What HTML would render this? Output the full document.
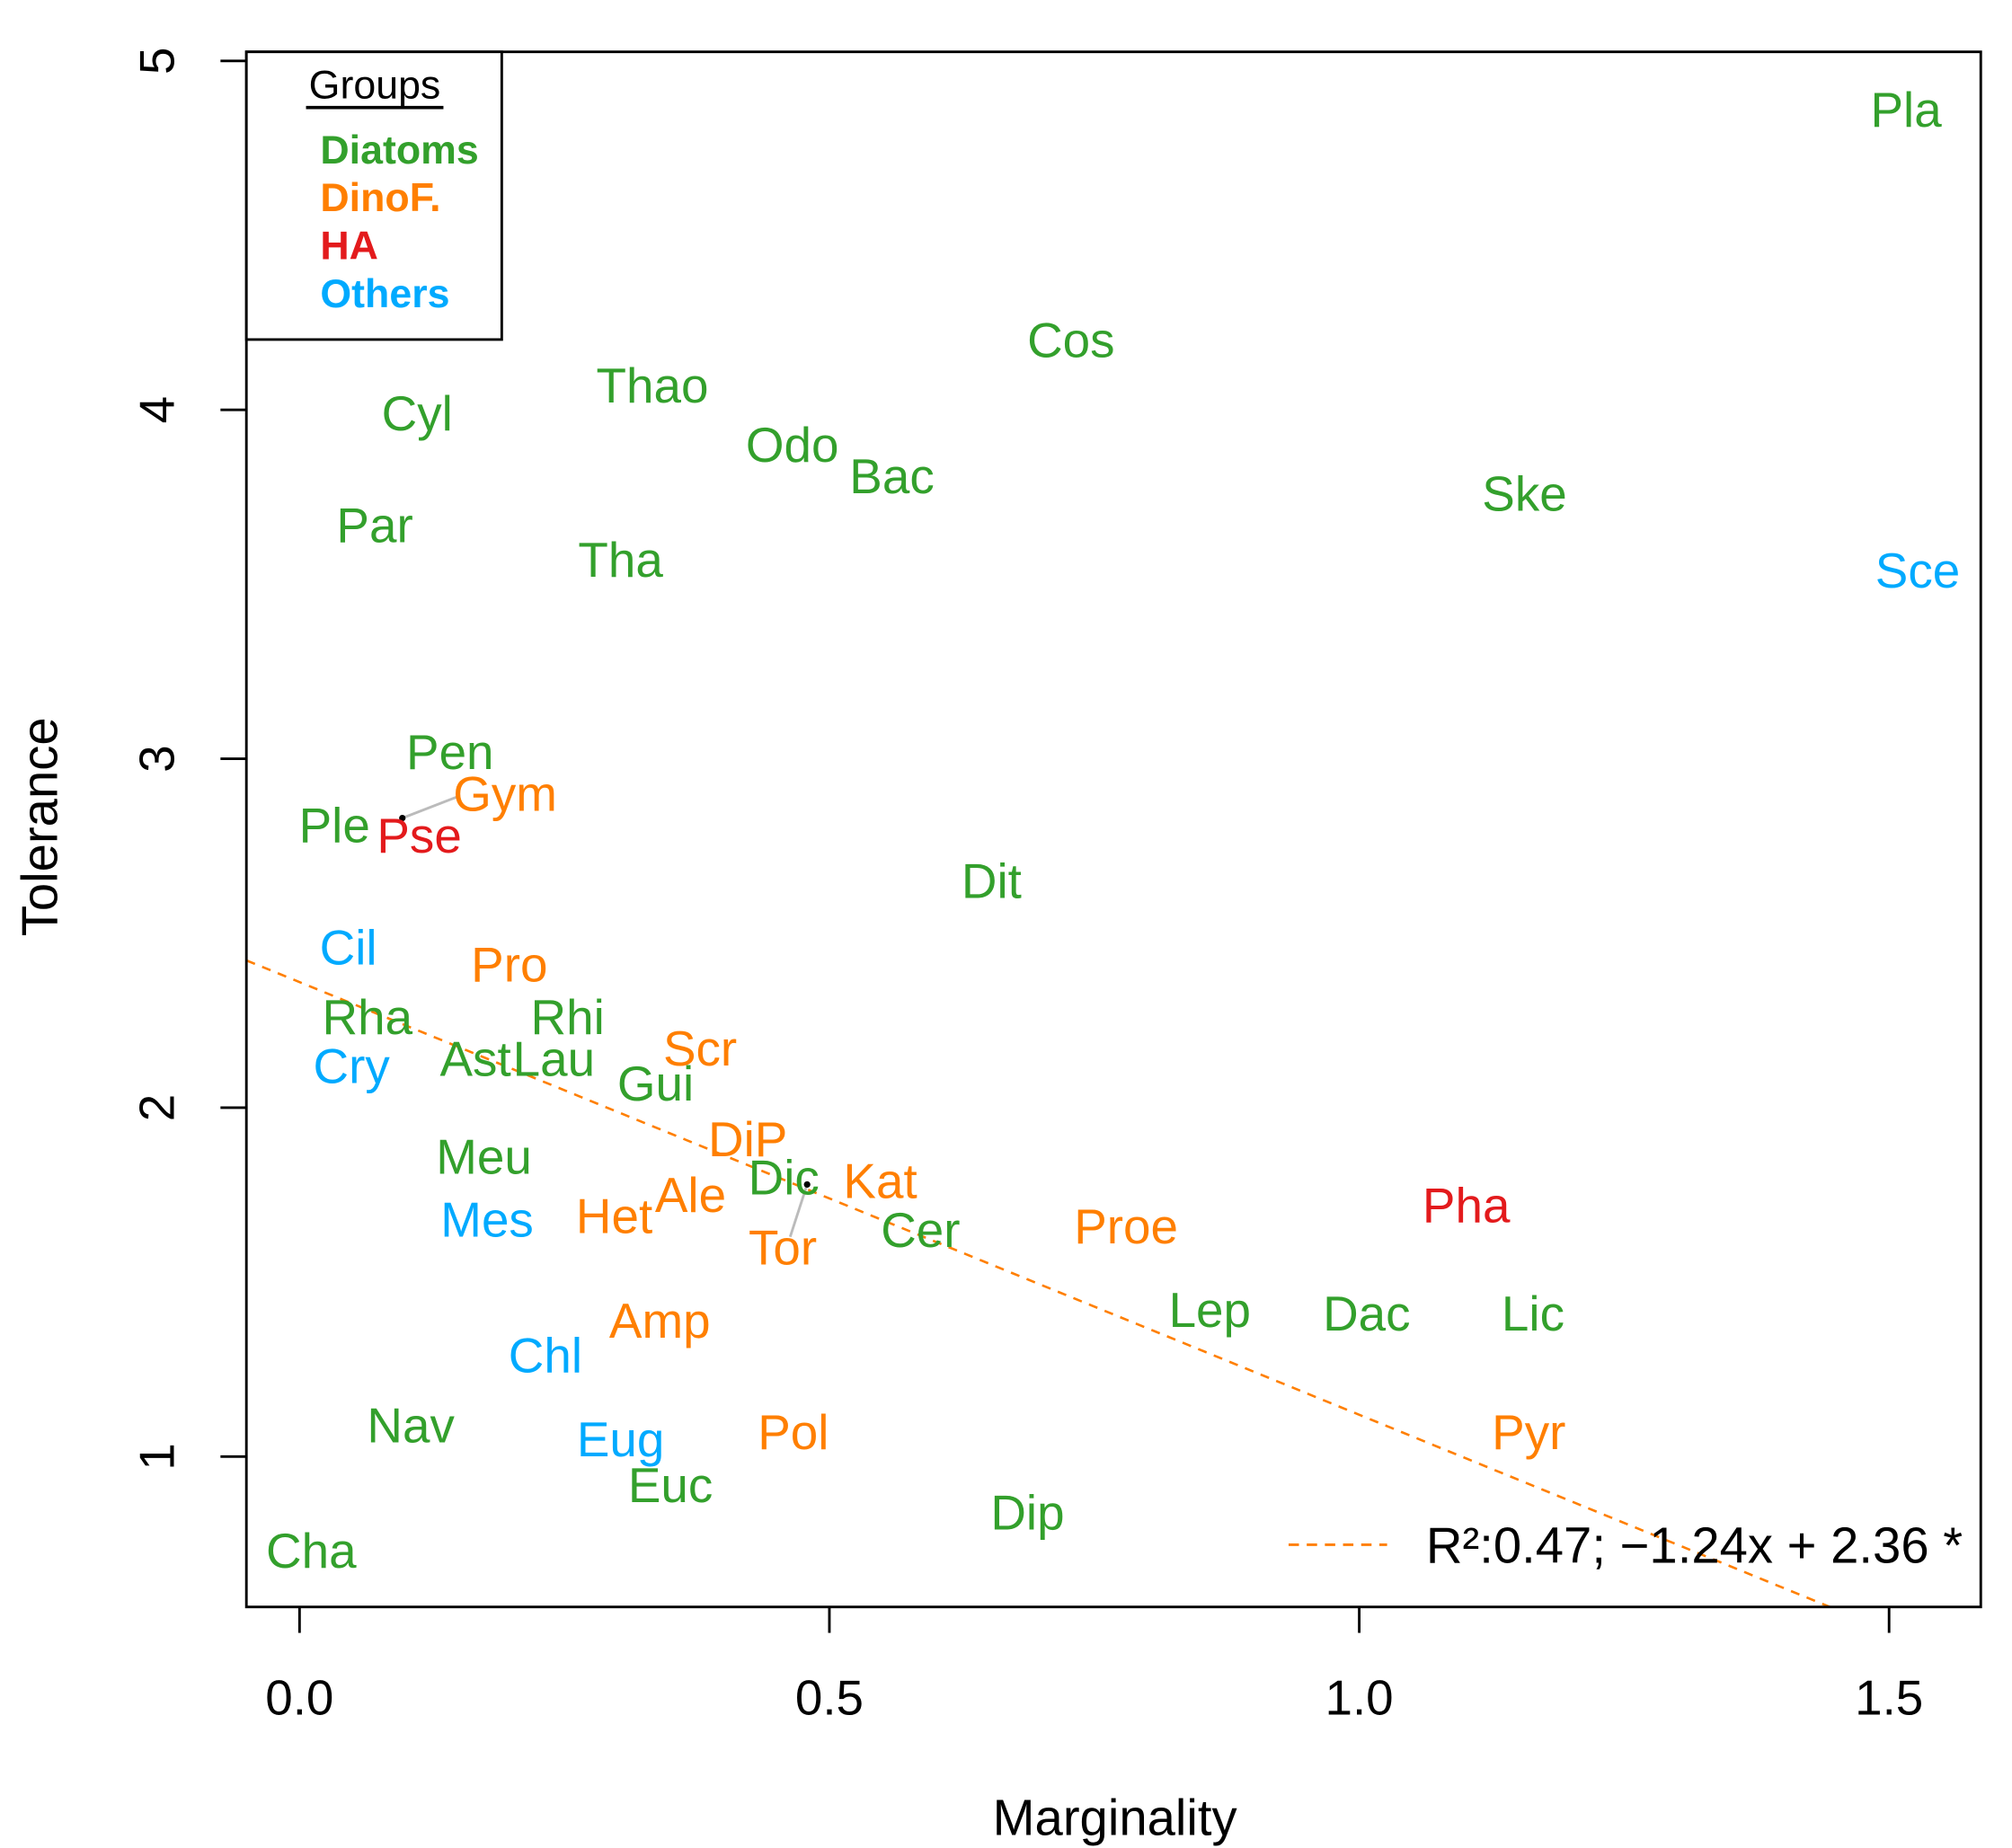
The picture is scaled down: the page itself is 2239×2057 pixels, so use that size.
<!DOCTYPE html>
<html><head><meta charset="utf-8"><style>
html,body{margin:0;padding:0;background:#fff;}
svg{display:block;font-family:"Liberation Sans",Arial,sans-serif;}
</style></head><body>
<svg id="chart" width="2239" height="2057" viewBox="0 0 1552 1426" xmlns="http://www.w3.org/2000/svg">
<rect x="0" y="0" width="1552" height="1426" fill="#fff"/>
<g id="marks"></g>
<rect x="190" y="40" width="1338" height="1200" fill="none" stroke="#000" stroke-width="2"/>
<g id="axes"></g>
<text x="860" y="1416" font-size="39" text-anchor="middle">Marginality</text>
<text x="44" y="638" font-size="39" text-anchor="middle" transform="rotate(-90 44 638)">Tolerance</text>
<g>
<rect x="190" y="40" width="197" height="222" fill="#fff" stroke="#000" stroke-width="2"/>
<text x="289" y="76" font-size="31" text-anchor="middle">Groups</text>
<line x1="236" y1="83" x2="342" y2="83" stroke="#000" stroke-width="2.5"/>
<text x="247" y="126" font-size="31" font-weight="bold" fill="#33a02c">Diatoms</text>
<text x="247" y="163" font-size="31" font-weight="bold" fill="#ff7f00">DinoF.</text>
<text x="247" y="200" font-size="31" font-weight="bold" fill="#e31a1c">HA</text>
<text x="247" y="237" font-size="31" font-weight="bold" fill="#00aaff">Others</text>
</g>
<g>
<line x1="994" y1="1192" x2="1070" y2="1192" stroke="#ff7f00" stroke-width="2" stroke-dasharray="8,6"/>
<text x="1100" y="1206" font-size="39">R²:0.47; −1.24x + 2.36 *</text>
</g>
</svg>
<script>
const labels=["Pla","Cos","Thao","Cyl","Odo","Bac","Ske","Par","Tha","Sce","Pen","Gym","Ple","Pse","Dit","Cil","Pro","Rha","Rhi","Scr","Ast","Lau","Cry","Gui","DiP","Meu","Dic","Kat","Ale","Pha","Het","Mes","Cer","Proe","Tor","Lep","Dac","Lic","Amp","Chl","Nav","Pol","Pyr","Eug","Euc","Dip","Cha"];
const groups=["G","G","G","G","G","G","G","G","G","O","G","D","G","H","G","O","D","G","G","D","G","G","O","G","D","G","G","D","D","H","D","O","G","D","D","G","G","G","D","O","G","D","D","O","G","G","G"];
const marginality=[1.516,0.728,0.333,0.111,0.465,0.559,1.156,0.071,0.303,1.527,0.142,0.194,0.033,0.113,0.653,0.046,0.198,0.064,0.253,0.378,0.166,0.240,0.049,0.336,0.423,0.174,0.457,0.548,0.369,1.101,0.297,0.177,0.586,0.780,0.456,0.859,1.007,1.164,0.340,0.232,0.105,0.466,1.160,0.303,0.350,0.687,0.011];
const tolerance=[4.86,4.20,4.07,3.99,3.90,3.81,3.76,3.67,3.57,3.54,3.02,2.90,2.81,2.78,2.65,2.46,2.41,2.26,2.26,2.17,2.14,2.14,2.12,2.07,1.91,1.86,1.80,1.79,1.75,1.72,1.69,1.68,1.65,1.66,1.60,1.42,1.41,1.41,1.39,1.29,1.09,1.07,1.07,1.05,0.918,0.84,0.73];
const offsetPointsX=[0.097,0.479];
const offsetPointsY=[2.83,1.78];
const offsetLabelsX=[0.148,0.463];
const offsetLabelsY=[2.89,1.63];
const xTicks=[0,0.5,1.0,1.5];
const xTickLabels=["0.0","0.5","1.0","1.5"];
const yTicks=[1,2,3,4,5];
const slope=-1.24, intercept=2.36;
const colors={G:"#33a02c",D:"#ff7f00",H:"#e31a1c",O:"#00aaff"};
const NS="http://www.w3.org/2000/svg";
function sx(v){return 231+v*817.5;}
function sy(v){return 1124-(v-1)*269.25;}
const marks=document.getElementById('marks');
const axes=document.getElementById('axes');
function mk(tag,attrs,parent){const e=document.createElementNS(NS,tag);for(const k in attrs)e.setAttribute(k,attrs[k]);parent.appendChild(e);return e;}
const cp=mk('clipPath',{id:'clip'},document.getElementById('chart'));
mk('rect',{x:190,y:40,width:1338,height:1200},cp);
const x0=-0.05, x1=1.58;
const reg=mk('line',{x1:sx(x0),y1:sy(slope*x0+intercept),x2:sx(x1),y2:sy(slope*x1+intercept),stroke:"#ff7f00","stroke-width":1.8,"stroke-dasharray":"7,6","clip-path":"url(#clip)"},marks);


for(let i=0;i<offsetPointsX.length;i++){
  const l=mk('line',{x1:sx(offsetPointsX[i]),y1:sy(offsetPointsY[i]),x2:sx(offsetLabelsX[i]),y2:sy(offsetLabelsY[i]),stroke:"#bbb","stroke-width":2},marks);
  
  
  const c=mk('circle',{cx:sx(offsetPointsX[i]),cy:sy(offsetPointsY[i]),r:2.5,fill:"#000"},marks);
  
  
}
for(let i=0;i<labels.length;i++){
  const t=mk('text',{x:sx(marginality[i]),y:sy(tolerance[i]),"font-size":38,"text-anchor":"middle","dominant-baseline":"central",fill:colors[groups[i]]},marks);
  t.textContent=labels[i];
  
  
}
for(let i=0;i<xTicks.length;i++){
  const x=sx(xTicks[i]);
  const tk=mk('line',{x1:x,y1:1240,x2:x,y2:1260,stroke:"#000","stroke-width":2},axes);
  
  
  const tl=mk('text',{x:x,y:1323,"font-size":38,"text-anchor":"middle"},axes);
  tl.textContent=xTickLabels[i];
  
  
}
for(let i=0;i<yTicks.length;i++){
  const y=sy(yTicks[i]);
  const tk=mk('line',{x1:170,y1:y,x2:190,y2:y,stroke:"#000","stroke-width":2},axes);
  
  
  const tl=mk('text',{x:134,y:y,"font-size":38,"text-anchor":"middle",transform:`rotate(-90 134 ${y})`},axes);
  tl.textContent=String(yTicks[i]);
  
  
}
</script>
</body></html>
